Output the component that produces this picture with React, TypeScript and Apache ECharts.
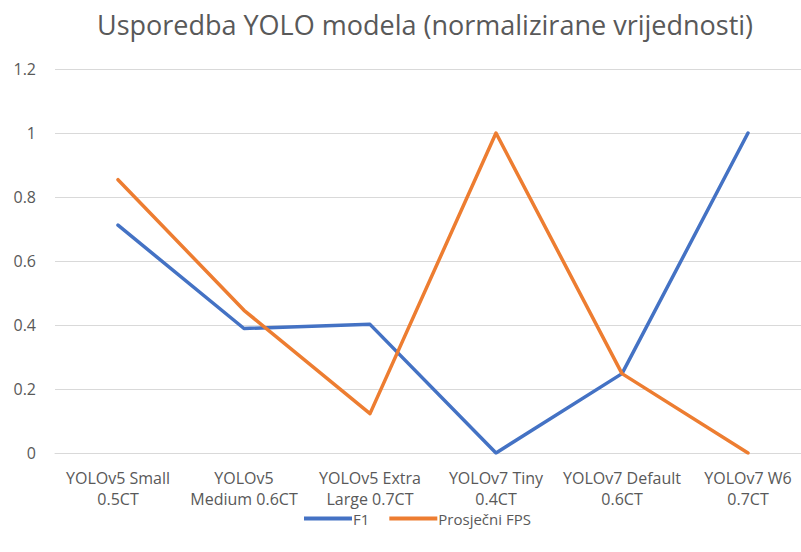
import React, { useEffect, useRef } from "react";
import * as echarts from "echarts";

const categories = [
  "YOLOv5 Small\n0.5CT",
  "YOLOv5\nMedium 0.6CT",
  "YOLOv5 Extra\nLarge 0.7CT",
  "YOLOv7 Tiny\n0.4CT",
  "YOLOv7 Default\n0.6CT",
  "YOLOv7 W6\n0.7CT",
];
const f1Values = [0.712, 0.389, 0.402, 0, 0.248, 1];
const fpsValues = [0.854, 0.446, 0.123, 1, 0.248, 0];
const seriesNames = ["F1", "Prosječni FPS"];
const titleText = "Usporedba YOLO modela (normalizirane vrijednosti)";

const LABEL_FONT = "'Open Sans', sans-serif";
const TITLE_FONT = "'Open Sans', sans-serif";

export default function App() {
  const ref = useRef<HTMLDivElement>(null);
  useEffect(() => {
    if (!ref.current) return;
    const chart = echarts.init(ref.current, null, { renderer: "svg" });
    chart.setOption({
      animation: false,
      backgroundColor: "#ffffff",
      title: {
        text: titleText,
        left: 420,
        top: 6,
        textAlign: "center",
        textStyle: {
          fontFamily: TITLE_FONT,
          fontSize: 27,
          fontWeight: "normal",
          color: "#595959",
        },
      },
      legend: {
        data: seriesNames,
        left: 299,
        top: 506,
        icon: "rect",
        itemWidth: 48,
        itemHeight: 4,
        itemGap: 20,
        textStyle: {
          fontFamily: LABEL_FONT,
          fontSize: 15,
          color: "#595959",
          padding: [0, 0, 0, -4],
        },
      },
      grid: { left: 55, right: 1, top: 69, bottom: 99, containLabel: false },
      xAxis: {
        type: "category",
        data: categories,
        boundaryGap: true,
        axisLine: { lineStyle: { color: "#d9d9d9", width: 1 } },
        axisTick: { show: false },
        axisLabel: {
          interval: 0,
          margin: 14,
          lineHeight: 21.5,
          fontFamily: LABEL_FONT,
          fontSize: 16,
          color: "#595959",
        },
      },
      yAxis: {
        type: "value",
        min: 0,
        max: 1.2,
        interval: 0.2,
        axisLine: { show: false },
        axisTick: { show: false },
        splitLine: { lineStyle: { color: "#d9d9d9", width: 1 } },
        axisLabel: {
          margin: 19,
          fontFamily: LABEL_FONT,
          fontSize: 16,
          color: "#595959",
          formatter: (v: number) => String(Math.round(v * 10) / 10),
        },
      },
      series: [
        {
          name: seriesNames[0],
          type: "line",
          data: f1Values,
          symbol: "none",
          lineStyle: { color: "#4472C4", width: 3.5, cap: "round", join: "round" },
          itemStyle: { color: "#4472C4" },
        },
        {
          name: seriesNames[1],
          type: "line",
          data: fpsValues,
          symbol: "none",
          lineStyle: { color: "#ED7D31", width: 3.5, cap: "round", join: "round" },
          itemStyle: { color: "#ED7D31" },
        },
      ],
    });
    return () => chart.dispose();
  }, []);
  return (
    <div style={{ position: "absolute", left: 0, top: 0, width: 801, height: 552, overflow: "hidden", background: "#fff" }}>
      <div ref={ref} style={{ width: 812, height: 552 }} />
    </div>
  );
}
